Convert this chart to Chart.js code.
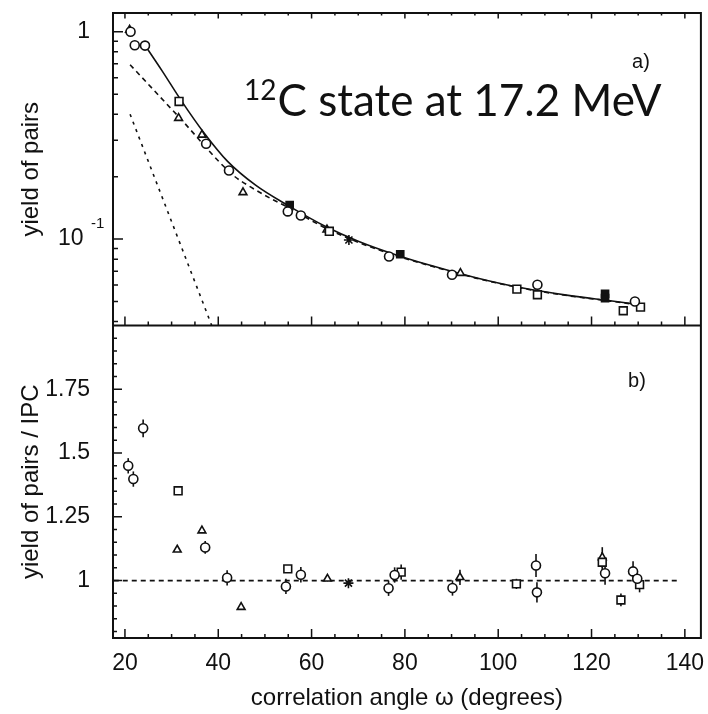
<!DOCTYPE html>
<html>
<head>
<meta charset="utf-8">
<script src="https://cdn.jsdelivr.net/npm/chart.js@4.4.1/dist/chart.umd.min.js"></script>
<style>
  html, body { margin: 0; padding: 0; background: #fff; }
</style>
</head>
<body>
<canvas id="canvas" width="708" height="714"></canvas>
<script>
// panel a) yield of pairs, [angle, yield]
const topCircles = [[21.2, 1.0], [22.1, 0.86], [24.3, 0.857], [37.4, 0.288], [42.3, 0.214], [54.9, 0.136],
    [57.7, 0.130], [76.6, 0.0824], [90.1, 0.0673], [108.4, 0.0602], [129.3, 0.050]];
const topSquares = [[31.6, 0.461], [63.8, 0.109], [104.0, 0.0574], [108.4, 0.0539], [126.8, 0.0451], [130.5, 0.0470]];
const topTriangles = [[21.0, 1.02], [31.5, 0.383], [36.5, 0.318], [45.3, 0.168], [63.3, 0.111], [91.9, 0.0685]];
const topFilled = [[55.3, 0.146], [79.0, 0.0845], [122.9, 0.0545], [122.9, 0.0519]];
const topStars = [[68.0, 0.099]];
const ipcTotal = [[24.0, 0.88], [28.0, 0.646], [32.0, 0.468], [37.0, 0.324], [42.0, 0.237], [48.0, 0.182],
    [55.0, 0.145], [63.0, 0.115], [70.0, 0.0977], [78.0, 0.0841], [86.0, 0.0741], [95.0, 0.0653],
    [105.0, 0.0582], [115.0, 0.0535], [124.0, 0.0504], [131.0, 0.0481]];
const ipcMain = [[21.1, 0.693], [31.7, 0.385], [43.1, 0.204], [47.0, 0.178], [51.0, 0.158], [55.0, 0.142],
    [63.0, 0.113], [70.0, 0.0965], [78.0, 0.0833], [86.0, 0.0737], [95.0, 0.065], [105.0, 0.058],
    [115.0, 0.0533], [124.0, 0.0502], [131.0, 0.0479]];
const ipcSteep = [[21.1, 0.40], [38.6, 0.0383]];

// panel b) yield of pairs / IPC, [angle, ratio, error]
const botCircles = [[20.7, 1.450, 0.03], [21.8, 1.398, 0.03], [23.9, 1.597, 0.035], [37.2, 1.130, 0.025],
    [41.9, 1.011, 0.03], [54.5, 0.977, 0.03], [57.7, 1.023, 0.03], [76.5, 0.970, 0.03], [77.8, 1.022, 0.03],
    [90.2, 0.971, 0.03], [108.1, 1.059, 0.045], [108.3, 0.954, 0.04], [122.9, 1.029, 0.045], [128.9, 1.036, 0.04],
    [129.8, 1.007, 0.03]];
const botSquares = [[31.4, 1.352, 0], [54.9, 1.046, 0], [79.2, 1.033, 0.03], [103.9, 0.987, 0.02],
    [122.3, 1.072, 0.04], [126.3, 0.924, 0.025], [130.3, 0.984, 0.03]];
const botTriangles = [[31.2, 1.121, 0], [36.5, 1.196, 0], [44.9, 0.896, 0], [63.4, 1.007, 0.01],
    [91.8, 1.013, 0.03], [122.3, 1.091, 0.04]];
const botStars = [[67.9, 0.990, 0]];
const unityLine = [[17.6, 1.0], [138.8, 1.0]];

// tick marks and labels
const xTickLabels = [20, 40, 60, 80, 100, 120, 140];
const xTickMarks = [];
for (let v = 20; v <= 140; v += 5) xTickMarks.push(v);
const topTickLabels = {1: '1', 0.1: '10 '};
const topTickMarks = [0.04, 0.05, 0.06, 0.07, 0.08, 0.09, 0.1, 0.2, 0.3, 0.4, 0.5, 0.6, 0.7, 0.8, 0.9, 1];
const botTickLabels = [1, 1.25, 1.5, 1.75];
const botTickMarks = [];
for (let i = 16; i < 40; i++) botTickMarks.push(Math.round(i * 5) / 100);

const pts = arr => arr.map(p => ({x: p[0], y: p[1], e: p[2] || 0}));

const markers = function (data, style, axis, filled, r) {
    return {
        data: pts(data),
        yAxisID: axis,
        showLine: false,
        pointStyle: style,
        pointRadius: r || 4.5,
        borderColor: '#111',
        backgroundColor: filled ? '#111' : '#fff',
        borderWidth: 1.6
    };
};
const curve = function (data, dash, axis) {
    return {
        data: pts(data),
        yAxisID: axis,
        showLine: true,
        pointRadius: 0,
        borderColor: '#111',
        borderWidth: 1.6,
        borderDash: dash,
        cubicInterpolationMode: 'monotone',
        fill: false
    };
};

const isNear = (a, b) => Math.abs(a - b) < 1e-6;

// no extra room for the end labels, the layout padding sets the frame
const fixWidth = s => { s.width = 113; s.paddingTop = 0; s.paddingBottom = 0; };

const decor = {
    id: 'decor',
    beforeDatasetsDraw(chart) {
        const ctx = chart.ctx;
        ctx.save();
        ctx.strokeStyle = '#111';
        ctx.lineWidth = 1.6;
        chart.data.datasets.forEach((ds, i) => {
            const meta = chart.getDatasetMeta(i);
            const sc = chart.scales[ds.yAxisID];
            meta.data.forEach((el, j) => {
                const e = ds.data[j].e;
                if (!e) return;
                ctx.beginPath();
                ctx.moveTo(el.x, sc.getPixelForValue(ds.data[j].y - e));
                ctx.lineTo(el.x, sc.getPixelForValue(ds.data[j].y + e));
                ctx.stroke();
            });
        });
        ctx.restore();
    },
    afterDraw(chart) {
        const ctx = chart.ctx;
        const a = chart.chartArea;
        const yTop = chart.scales.yTop, yBot = chart.scales.yBot, x = chart.scales.x;
        const mid = yTop.bottom;
        ctx.save();
        ctx.strokeStyle = '#111';
        ctx.lineWidth = 2;
        ctx.strokeRect(a.left, a.top, a.right - a.left, a.bottom - a.top);
        ctx.beginPath();
        ctx.moveTo(a.left, mid);
        ctx.lineTo(a.right, mid);
        ctx.stroke();

        ctx.lineWidth = 1.5;
        ctx.beginPath();
        // x ticks, pointing into the panels
        xTickMarks.forEach(v => {
            const px = x.getPixelForValue(v);
            const len = v % 20 === 0 ? 9 : 4;
            ctx.moveTo(px, a.bottom); ctx.lineTo(px, a.bottom - len);
            ctx.moveTo(px, mid); ctx.lineTo(px, mid - len);
            ctx.moveTo(px, a.top); ctx.lineTo(px, a.top + len * 0.6);
        });
        // log ticks of panel a)
        topTickMarks.forEach(v => {
            const py = yTop.getPixelForValue(v);
            const len = (isNear(v, 1) || isNear(v, 0.1)) ? 10 : 5;
            ctx.moveTo(a.left, py); ctx.lineTo(a.left + len, py);
        });
        // linear ticks of panel b)
        botTickMarks.forEach(v => {
            const py = yBot.getPixelForValue(v);
            const len = botTickLabels.some(l => isNear(l, v)) ? 9 : 4;
            ctx.moveTo(a.left, py); ctx.lineTo(a.left + len, py);
        });
        ctx.stroke();

        ctx.fillStyle = '#111';
        ctx.textBaseline = 'middle';
        ctx.textAlign = 'left';
        // exponent of the 10^-1 label
        ctx.font = '15px "Liberation Sans", Arial, sans-serif';
        ctx.fillText('-1', 91, yTop.getPixelForValue(0.1) - 15);
        // panel tags
        ctx.font = '20px "Liberation Sans", Arial, sans-serif';
        ctx.textAlign = 'center';
        ctx.fillText('a)', 641, 62);
        ctx.fillText('b)', 637, 381);
        // annotation
        ctx.textAlign = 'left';
        ctx.textBaseline = 'alphabetic';
        ctx.font = '28px Lato, "Open Sans", sans-serif';
        ctx.fillText('12', 244, 100);
        const w12 = ctx.measureText('12').width;
        ctx.font = '44px Lato, "Open Sans", sans-serif';
        ctx.fillText('C state at 17.2 MeV', 244 + w12 + 1, 116);
        ctx.restore();
    }
};

const tickFont = {family: '"Liberation Sans", Arial, sans-serif', size: 23};
const titleFont = {family: '"Liberation Sans", Arial, sans-serif', size: 24};

new Chart(document.getElementById('canvas').getContext('2d'), {
    type: 'scatter',
    data: {
        datasets: [
            markers(topCircles, 'circle', 'yTop'),
            markers(topSquares, 'rect', 'yTop', false, 5.5),
            markers(topTriangles, 'triangle', 'yTop'),
            markers(topFilled, 'rect', 'yTop', true, 5),
            markers(topStars, 'star', 'yTop', true, 5),
            markers(botCircles, 'circle', 'yBot'),
            markers(botSquares, 'rect', 'yBot', false, 5.5),
            markers(botTriangles, 'triangle', 'yBot'),
            markers(botStars, 'star', 'yBot', true, 5),
            curve(ipcTotal, [], 'yTop'),
            curve(ipcMain, [5, 4], 'yTop'),
            curve(ipcSteep, [3, 5], 'yTop'),
            curve(unityLine, [5, 4], 'yBot')
        ]
    },
    options: {
        responsive: false,
        animation: false,
        events: [],
        layout: {padding: {top: 13, right: 5, left: 0, bottom: 0}},
        plugins: {legend: {display: false}, tooltip: {enabled: false}},
        scales: {
            x: {
                type: 'linear',
                min: 17.44,
                max: 143.44,
                grid: {display: false, drawTicks: false},
                border: {display: false},
                afterBuildTicks: s => { s.ticks = xTickLabels.map(v => ({value: v})); },
                ticks: {
                    autoSkip: false,
                    maxRotation: 0,
                    padding: 12,
                    color: '#111',
                    font: tickFont,
                    callback: v => String(v)
                },
                title: {display: true, text: 'correlation angle \u03c9 (degrees)', color: '#111', font: titleFont, padding: {top: 0, bottom: 1}},
                afterFit: s => { s.height = 76; s.paddingLeft = 0; s.paddingRight = 0; }
            },
            yBot: {
                type: 'linear',
                position: 'left',
                stack: 'panels',
                stackWeight: 1,
                min: 0.775,
                max: 2.0,
                grid: {display: false, drawTicks: false},
                border: {display: false},
                afterBuildTicks: s => { s.ticks = botTickLabels.map(v => ({value: v})); },
                ticks: {
                    autoSkip: false,
                    padding: 23,
                    color: '#111',
                    font: tickFont,
                    callback: v => String(v)
                },
                title: {display: true, text: 'yield of pairs / IPC', color: '#111', font: titleFont, padding: {top: 17, bottom: 0}},
                afterFit: fixWidth
            },
            yTop: {
                type: 'logarithmic',
                position: 'left',
                stack: 'panels',
                stackWeight: 1,
                min: 0.0383,
                max: 1.231,
                grid: {display: false, drawTicks: false},
                border: {display: false},
                afterBuildTicks: s => { s.ticks = Object.keys(topTickLabels).map(k => ({value: Number(k)})); },
                ticks: {
                    autoSkip: false,
                    padding: 23,
                    color: '#111',
                    font: tickFont,
                    callback: v => topTickLabels[v] || ''
                },
                title: {display: true, text: 'yield of pairs', color: '#111', font: titleFont, padding: {top: 17, bottom: 0}},
                afterFit: fixWidth
            }
        }
    },
    plugins: [decor]
});
</script>
</body>
</html>
